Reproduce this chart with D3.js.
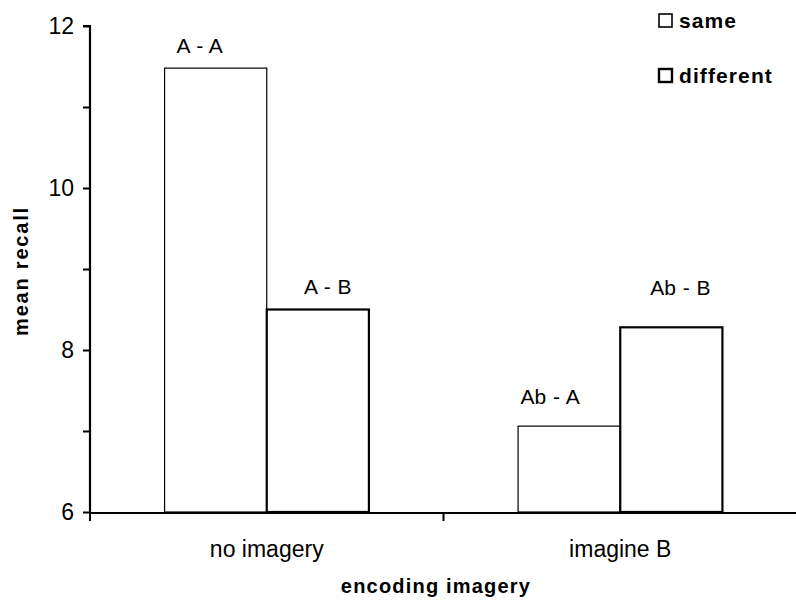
<!DOCTYPE html>
<html><head><meta charset="utf-8">
<script src="https://cdn.jsdelivr.net/npm/d3@7"></script>
<style>body{margin:0;background:#fff}svg{display:block}text{font-family:"Liberation Sans",Arial,sans-serif;fill:#000}</style>
</head><body>
<svg id="c" width="796" height="601"></svg>
<script>
const categories = ["no imagery", "imagine B"];
const seriesNames = ["same", "different"];
const sameValues = [11.48, 7.06];
const differentValues = [8.5, 8.28];
const barLabels = [["A - A", "A - B"], ["Ab - A", "Ab - B"]];
const yTicks = [6, 8, 10, 12];
const yMinorTicks = [7, 9, 11];

(function () {
const svg = d3.select("#c");
const mL = 90, mR = 797, mT = 26, mB = 512;

const y = d3.scaleLinear().domain([6, 12]).range([mB, mT]);
const x0 = d3.scaleBand().domain(categories).range([mL, mR]).padding(0);
const x1 = d3.scaleBand().domain(seriesNames).range([0, x0.bandwidth()]).paddingInner(0).paddingOuter(0.73);

const data = categories.map((c, i) => ({
  cat: c,
  vals: [
    {s: "same", v: sameValues[i], label: barLabels[i][0]},
    {s: "different", v: differentValues[i], label: barLabels[i][1]}
  ]
}));
const strokeW = {same: 1.2, different: 2.2};
const labelLift = [[15, 16], [22, 32]];
const labelShift = [[-16, 10], [-19, 9]];

// bars
const g = svg.append("g");
data.forEach((d, i) => {
  d.vals.forEach((b, j) => {
    g.append("rect")
      .attr("x", x0(d.cat) + x1(b.s))
      .attr("y", y(b.v))
      .attr("width", x1.bandwidth())
      .attr("height", y(6) - y(b.v))
      .attr("fill", "#fff").attr("stroke", "#000")
      .attr("stroke-width", strokeW[b.s]);
    g.append("text")
      .attr("x", x0(d.cat) + x1(b.s) + x1.bandwidth() / 2 + labelShift[i][j])
      .attr("y", y(b.v) - labelLift[i][j])
      .attr("text-anchor", "middle")
      .attr("font-size", 21).attr("word-spacing", 1)
      .text(b.label);
  });
});

// y axis
const yAxis = d3.axisLeft(y).tickValues(yTicks).tickSize(7).tickPadding(9).tickFormat(d3.format("d"));
const ya = svg.append("g").attr("transform", `translate(${mL},0)`).call(yAxis);
ya.select(".domain").attr("stroke-width", 2.2).attr("d", `M-7,${mT}H0V${mB}`);
ya.selectAll(".tick line").attr("stroke-width", 2);
ya.selectAll(".tick text").attr("font-size", 23).attr("font-family", '"Liberation Sans",Arial,sans-serif');
const yMinor = d3.axisLeft(y).tickValues(yMinorTicks).tickSize(7).tickFormat("");
const ym = svg.append("g").attr("transform", `translate(${mL},0)`).call(yMinor);
ym.select(".domain").remove();
ym.selectAll(".tick line").attr("stroke-width", 2);

// x axis
const xTickPos = [mL, x0(categories[1]), mR];
svg.append("line").attr("x1", mL).attr("x2", mR).attr("y1", mB + 1).attr("y2", mB + 1)
  .attr("stroke", "#000").attr("stroke-width", 2.2);
xTickPos.forEach(p => svg.append("line").attr("x1", p).attr("x2", p).attr("y1", mB).attr("y2", mB + 9)
  .attr("stroke", "#000").attr("stroke-width", 2));
categories.forEach(c => svg.append("text")
  .attr("x", x0(c) + x0.bandwidth() / 2).attr("y", 557)
  .attr("text-anchor", "middle").attr("font-size", 23).text(c));

// axis titles
svg.append("text").attr("x", 436).attr("y", 593).attr("text-anchor", "middle")
  .attr("font-size", 20).attr("font-weight", "bold").attr("letter-spacing", 1.2).text("encoding imagery");
svg.append("text").attr("transform", "translate(28,271) rotate(-90)").attr("text-anchor", "middle")
  .attr("font-size", 20).attr("font-weight", "bold").attr("letter-spacing", 1.8).text("mean recall");

// legend
const legY = [14, 69];
seriesNames.forEach((s, i) => {
  svg.append("rect").attr("x", 659).attr("y", legY[i]).attr("width", 13).attr("height", 13)
    .attr("fill", "#fff").attr("stroke", "#000").attr("stroke-width", i ? 2.4 : 1.6);
  svg.append("text").attr("x", 679).attr("y", legY[i] + 14)
    .attr("font-size", 21).attr("font-weight", "bold").attr("letter-spacing", 1.1).text(s);
});
})();
</script>
</body></html>
